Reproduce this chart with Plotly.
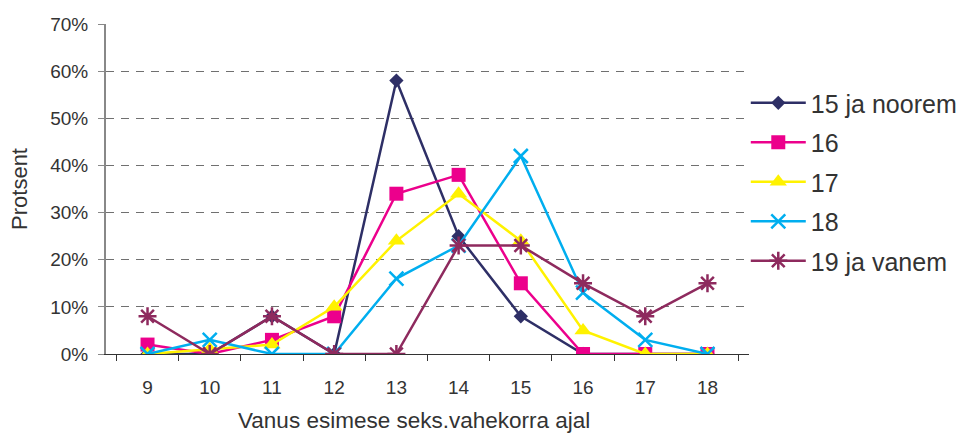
import plotly.graph_objects as go

categories = ["9", "10", "11", "12", "13", "14", "15", "16", "17", "18"]
s15 = [0, 0, 8, 0, 58, 25, 8, 0, 0, 0]
s16 = [2, 0, 3, 8, 34, 38, 15, 0, 0, 0]
s17 = [0, 1, 2, 10, 24, 34, 24, 5, 0, 0]
s18 = [0, 3, 0, 0, 16, 23, 42, 13, 3, 0]
s19 = [8, 0, 8, 0, 0, 23, 23, 15, 8, 15]
names = ["15 ja noorem", "16", "17", "18", "19 ja vanem"]
y_tickvals = [0, 10, 20, 30, 40, 50, 60, 70]
y_ticktext = ["0%", "10%", "20%", "30%", "40%", "50%", "60%", "70%"]

styles = [
    dict(color="#2E2F66", symbol="diamond", size=11, lw=0),
    dict(color="#EC008C", symbol="square", size=14, lw=0),
    dict(color="#FFF200", symbol="triangle-up", size=15, lw=0),
    dict(color="#00AEEF", symbol="x-thin-open", size=14, lw=2.5),
    dict(color="#8E2A5E", symbol="asterisk-open", size=15, lw=2.5),
]

fig = go.Figure()
for i, (name, vals, st) in enumerate(zip(names, [s15, s16, s17, s18, s19], styles)):
    fig.add_trace(go.Scatter(
        x=categories, y=vals, name=name, mode="lines+markers",
        legendgroup=f"g{i}",
        line=dict(color=st["color"], width=2.5),
        marker=dict(symbol=st["symbol"], size=st["size"], color=st["color"],
                    line=dict(color=st["color"], width=st["lw"])),
    ))

fig.update_layout(
    width=970, height=436,
    margin=dict(l=106, r=221, t=24, b=82, autoexpand=False),
    paper_bgcolor="white", plot_bgcolor="white",
    font=dict(family="Liberation Sans, Arial, sans-serif", size=19, color="#333333"),
    showlegend=True,
    legend=dict(x=0.995, y=0.83, xanchor="left", yanchor="top",
                font=dict(size=25, color="#333333"), itemwidth=55,
                tracegroupgap=4, bgcolor="rgba(0,0,0,0)"),
    xaxis=dict(type="category", tickson="boundaries", ticks="outside",
               ticklen=6, tickcolor="#333333", showline=True, linecolor="#333333",
               linewidth=1, showgrid=False, zeroline=False, automargin=False,
               ticklabelstandoff=16,
               tickfont=dict(size=19)),
    yaxis=dict(range=[0, 70], tickmode="array", tickvals=y_tickvals, ticktext=y_ticktext,
               ticks="outside", ticklen=6, tickcolor="#888888",
               showline=True, linecolor="#888888", linewidth=2,
               showgrid=True, gridcolor="#707070", griddash="8px,7px", gridwidth=1,
               zeroline=False, automargin=False, ticklabelstandoff=6,
               title=dict(text="Protsent", font=dict(size=22), standoff=16),
               tickfont=dict(size=19)),
    annotations=[dict(text="Vanus esimese seks.vahekorra ajal", xref="paper", yref="paper",
                      x=0.479, y=-0.2, xanchor="center", yanchor="middle",
                      showarrow=False, font=dict(size=22.5, color="#333333"))],
)

fig.write_html("out.html", config={"displayModeBar": False},
               post_script="document.body.style.margin='0';")
